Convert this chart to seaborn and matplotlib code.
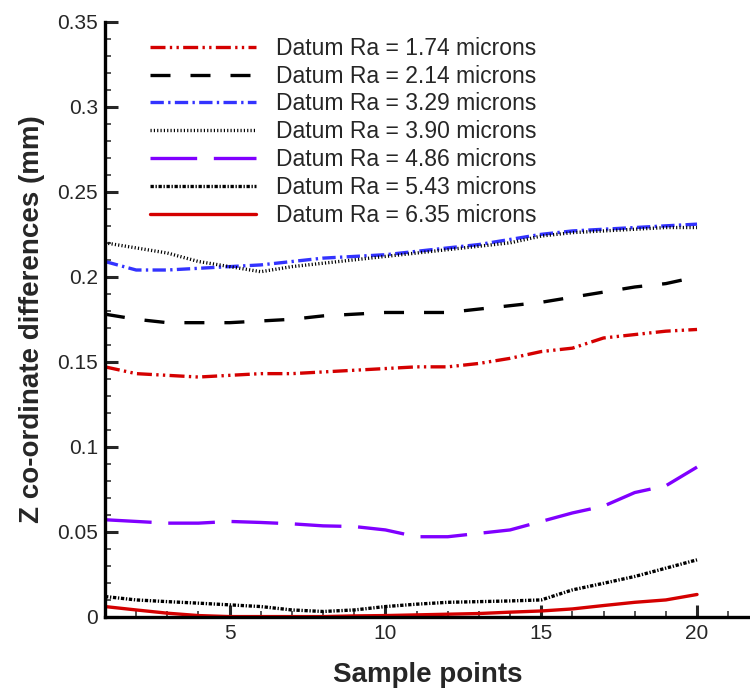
import numpy as np
import pandas as pd
import matplotlib
matplotlib.use('Agg')
import matplotlib.pyplot as plt
import seaborn as sns
from matplotlib.ticker import MultipleLocator

# sample points along x
points = list(range(1, 21))

# values, Z co-ordinate differences (mm)
ra_174 = [0.147, 0.143, 0.142, 0.141, 0.142, 0.143, 0.143, 0.144, 0.145, 0.146,
          0.147, 0.147, 0.149, 0.152, 0.156, 0.158, 0.164, 0.166, 0.168, 0.169]
ra_214 = [0.178, 0.175, 0.173, 0.173, 0.173, 0.174, 0.175, 0.177, 0.178, 0.179,
          0.179, 0.179, 0.181, 0.183, 0.185, 0.188, 0.191, 0.194, 0.196, 0.200]
ra_329 = [0.209, 0.204, 0.204, 0.205, 0.206, 0.207, 0.209, 0.211, 0.212, 0.213,
          0.215, 0.217, 0.219, 0.222, 0.225, 0.227, 0.228, 0.229, 0.230, 0.231]
ra_390 = [0.220, 0.217, 0.214, 0.209, 0.206, 0.203, 0.206, 0.208, 0.210, 0.212,
          0.214, 0.216, 0.218, 0.220, 0.224, 0.226, 0.227, 0.228, 0.229, 0.229]
ra_486 = [0.057, 0.056, 0.055, 0.055, 0.056, 0.0554, 0.0546, 0.0534, 0.053, 0.051,
          0.047, 0.047, 0.049, 0.051, 0.056, 0.061, 0.065, 0.073, 0.077, 0.088]
ra_543 = [0.0118, 0.0098, 0.0088, 0.0079, 0.0069, 0.0059, 0.0039, 0.003, 0.0039, 0.0059,
          0.0073, 0.0084, 0.0088, 0.0092, 0.0098, 0.0157, 0.0196, 0.0236, 0.0285, 0.0334]
ra_635 = [0.0059, 0.0039, 0.002, 0.0006, 0.0, 0.0, 0.0, 0.0, 0.0004, 0.0006,
          0.001, 0.0014, 0.0018, 0.0026, 0.0033, 0.0045, 0.0065, 0.0084, 0.0098, 0.013]

labels = ['Datum Ra = 1.74 microns', 'Datum Ra = 2.14 microns', 'Datum Ra = 3.29 microns',
          'Datum Ra = 3.90 microns', 'Datum Ra = 4.86 microns', 'Datum Ra = 5.43 microns',
          'Datum Ra = 6.35 microns']
series = [ra_174, ra_214, ra_329, ra_390, ra_486, ra_543, ra_635]
colors = ['#d40000', 'black', '#3333ff', 'black', '#8000ff', 'black', '#d40000']
styles = [(0, (4.5, 1.3, 0.7, 1.3, 0.7, 1.3)),
          (0, (6, 6)),
          (0, (4, 1.3, 0.7, 1.3)),
          (0, (0.35, 0.65)),
          (0, (14, 5)),
          (0, (1, 0.5, 0.4, 0.5)),
          '-']

sns.set_style('white')
plt.rcParams['font.family'] = ['Liberation Sans', 'DejaVu Sans']

fig = plt.figure(figsize=(7.5, 6.91), dpi=100)
ax = fig.add_axes([0.14, 0.1077, 0.86, 0.8605])

for vals, lab, col, ls in zip(series, labels, colors, styles):
    sns.lineplot(x=points, y=vals, ax=ax, color=col, linestyle=ls, linewidth=2.4, label=lab)

ax.set_xlim(1, 21.7)
ax.set_ylim(0, 0.35)
ax.xaxis.set_major_locator(MultipleLocator(5))
ax.xaxis.set_minor_locator(MultipleLocator(1))
ax.yaxis.set_minor_locator(MultipleLocator(0.01))
ax.set_yticks([0, 0.05, 0.1, 0.15, 0.2, 0.25, 0.3, 0.35])
ax.set_yticklabels(['0', '0.05', '0.1', '0.15', '0.2', '0.25', '0.3', '0.35'])

for s in ['top', 'right']:
    ax.spines[s].set_visible(False)
for s in ['left', 'bottom']:
    ax.spines[s].set_linewidth(2.4)
    ax.spines[s].set_color('black')

ax.tick_params(which='major', direction='in', length=9, width=2.2, labelsize=15, pad=5)
ax.tick_params(which='minor', direction='in', length=4.5, width=1.1)
ax.tick_params(axis='x', which='both', bottom=True)
ax.tick_params(axis='y', which='both', left=True)

ax.set_xlabel('Sample points', fontsize=20, fontweight='bold', labelpad=14)
ax.set_ylabel('Z co-ordinate differences (mm)', fontsize=20, fontweight='bold', labelpad=9)

ax.legend(loc='upper left', bbox_to_anchor=(0.07, 0.975), frameon=False, fontsize=16.5,
          handlelength=4.6, handletextpad=0.87, labelspacing=0.21,
          borderpad=0, borderaxespad=0)

fig.savefig('out.png', dpi=100)
